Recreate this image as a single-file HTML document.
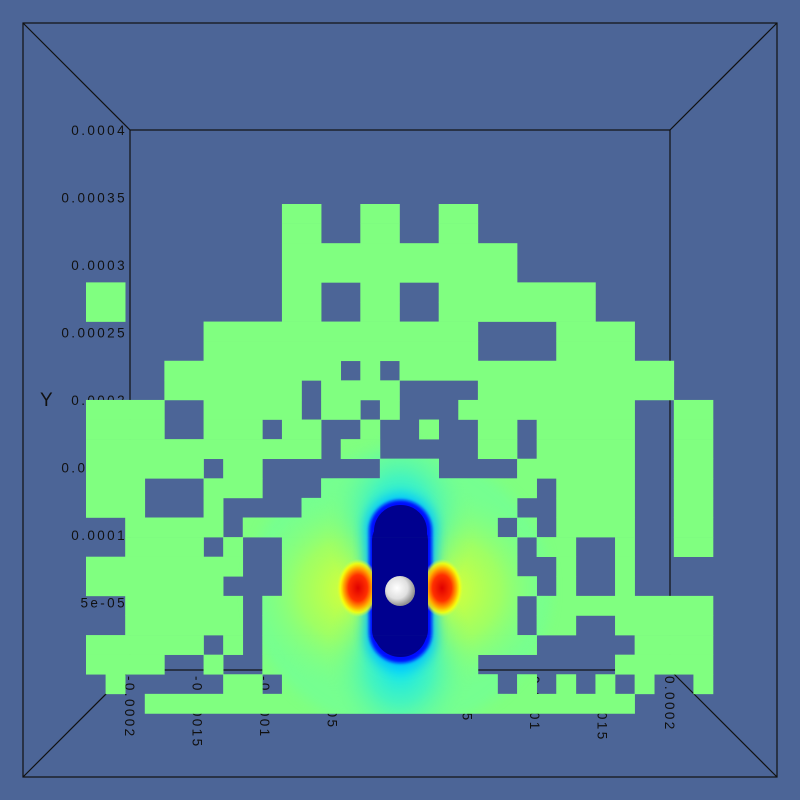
<!DOCTYPE html>
<html><head><meta charset="utf-8"><style>
html,body{margin:0;padding:0;background:#4c6597;}
svg{display:block}
text{font-family:"Liberation Sans",sans-serif;fill:#111;}
</style></head><body>
<svg id="plot" width="800" height="800" viewBox="0 0 800 800" xmlns="http://www.w3.org/2000/svg">
<defs>
 <radialGradient id="gYel"><stop offset="0" stop-color="#e0ff30" stop-opacity="0.95"/><stop offset="0.5" stop-color="#c0ff40" stop-opacity="0.55"/><stop offset="1" stop-color="#80ff80" stop-opacity="0"/></radialGradient>
 <radialGradient id="gCyan"><stop offset="0" stop-color="#00e0ff" stop-opacity="1"/><stop offset="0.45" stop-color="#30f0d0" stop-opacity="0.7"/><stop offset="1" stop-color="#80ff80" stop-opacity="0"/></radialGradient>
 <radialGradient id="gRed" cx="0.5" cy="0.5" r="0.5"><stop offset="0" stop-color="#e00000"/><stop offset="0.45" stop-color="#ff3000"/><stop offset="0.7" stop-color="#ffb000"/><stop offset="0.85" stop-color="#ffff00" stop-opacity="0.8"/><stop offset="1" stop-color="#e0ff40" stop-opacity="0"/></radialGradient>
 <radialGradient id="gSphere" cx="0.4" cy="0.4" r="0.6"><stop offset="0" stop-color="#ffffff"/><stop offset="0.6" stop-color="#e0e0e0"/><stop offset="1" stop-color="#909090"/></radialGradient>
 <filter id="blur6" x="-50%" y="-50%" width="200%" height="200%"><feGaussianBlur stdDeviation="6"/></filter>
 <filter id="blur2" x="-50%" y="-50%" width="200%" height="200%"><feGaussianBlur stdDeviation="1.5"/></filter>
 <clipPath id="cellClip"></clipPath>
</defs>
<g id="frame" stroke="#111" stroke-width="1.2" fill="none">
 <rect x="23" y="23" width="754" height="754"/>
 <rect x="130" y="130" width="540" height="540"/>
 <line x1="23" y1="23" x2="130" y2="130"/><line x1="777" y1="23" x2="670" y2="130"/>
 <line x1="23" y1="777" x2="130" y2="670"/><line x1="777" y1="777" x2="670" y2="670"/>
</g>
<g id="yticks"></g>
<g id="xticks"></g>
<text x="40" y="406" font-size="19">Y</text>
<g id="cells"></g>
<g id="field" clip-path="url(#cellClip)">
 <ellipse cx="400" cy="590" rx="150" ry="140" fill="#6cffa0" opacity="0.5" filter="url(#blur6)"/>
 <ellipse cx="352" cy="590" rx="105" ry="100" fill="url(#gYel)"/>
 <ellipse cx="448" cy="590" rx="105" ry="100" fill="url(#gYel)"/>
 <ellipse cx="400" cy="520" rx="75" ry="95" fill="url(#gCyan)"/>
 <ellipse cx="400" cy="660" rx="75" ry="95" fill="url(#gCyan)"/>
 <rect x="365" y="495" width="71" height="175" rx="35" fill="#00c0ff" filter="url(#blur6)"/>
 <rect x="369" y="500" width="63" height="163" rx="31" fill="#0010ff" filter="url(#blur2)"/>
 <rect x="374" y="505" width="53" height="152" rx="26" fill="#00008f"/>
 <ellipse cx="358" cy="588" rx="21" ry="29" fill="url(#gRed)"/>
 <ellipse cx="442" cy="588" rx="21" ry="29" fill="url(#gRed)"/>
 <rect x="372" y="520" width="56" height="130" rx="20" fill="#00008f"/>
</g>
<circle cx="400" cy="591" r="15" fill="url(#gSphere)"/>
</svg>
<script>
const gridRows = [
"..........##..##..##............",
"..........##..##..##............",
"..........############..........",
"..........############..........",
"##........##..##..########......",
"##........##..##..########......",
"......##############....####....",
"......##############....####....",
"....#########.#.##############..",
"....#######.####....##########..",
"####..#####.##.#...#########..##",
"####..###.##..#..#..##.#####..##",
"############.##.....##.#####..##",
"######.##......###....######..##",
"###...###...###########.####..##",
"###...#....###########..####..##",
"..#####.#############.#.####..##",
"..####.#..############.##..#..##",
"########..############..#..#....",
"#######...#############.#..#....",
"..######.#############.#########",
"..######.#############.##..#####",
"######.#.##############.....####",
"####..#..###########.......#####",
".#.....##.###########.#.#.#.#..#",
"...#########################...."
];
const yTickLabels = ["0.0004","0.00035","0.0003","0.00025","0.0002","0.00015","0.0001","5e-05"];
const yTickValues = [0.0004,0.00035,0.0003,0.00025,0.0002,0.00015,0.0001,0.00005];
const xTickLabels = ["-0.0002","-0.00015","-0.0001","-5e-05","0","5e-05","0.0001","0.00015","0.0002"];
const xTickValues = [-0.0002,-0.00015,-0.0001,-0.00005,0,0.00005,0.0001,0.00015,0.0002];

const NS="http://www.w3.org/2000/svg";
const yScale = v => 670 - (v/0.0004)*540;
const xScale = v => 400 + (v/0.0002)*270;
const cellX = c => 86 + c*19.594;
const cellY = r => 204 + r*19.594;

const yt=document.getElementById('yticks');
yTickLabels.forEach((lab,i)=>{
 const t=document.createElementNS(NS,'text');
 t.setAttribute('x',127);t.setAttribute('y',yScale(yTickValues[i])+5);
 t.setAttribute('text-anchor','end');t.setAttribute('font-size','13.5');t.setAttribute('letter-spacing','2.4');
 t.textContent=lab;
 
 
 yt.appendChild(t);
});
const xt=document.getElementById('xticks');
xTickLabels.forEach((lab,i)=>{
 const x=xScale(xTickValues[i]);
 const t=document.createElementNS(NS,'text');
 t.setAttribute('transform',`translate(${x-5},676) rotate(90)`);
 t.setAttribute('font-size','13.5');t.setAttribute('letter-spacing','2.4');
 t.textContent=lab;
 
 
 xt.appendChild(t);
});
const cg=document.getElementById('cells');
const clip=document.getElementById('cellClip');
gridRows.forEach((row,r)=>{
 let c=0;
 while(c<row.length){
  if(row[c]==='#'){
   let e=c; while(e<row.length && row[e]==='#') e++;
   const x=cellX(c), y=cellY(r), w=cellX(e)-x, h=cellY(r+1)-y;
   const rc=document.createElementNS(NS,'rect');
   rc.setAttribute('x',x);rc.setAttribute('y',y);rc.setAttribute('width',w+0.3);rc.setAttribute('height',h+0.3);
   rc.setAttribute('fill','#80ff80');
   
   
   cg.appendChild(rc);
   const cr=document.createElementNS(NS,'rect');
   cr.setAttribute('x',x);cr.setAttribute('y',y);cr.setAttribute('width',w+0.3);cr.setAttribute('height',h+0.3);
   clip.appendChild(cr);
   c=e;
  } else c++;
 }
});
</script>
</body></html>
